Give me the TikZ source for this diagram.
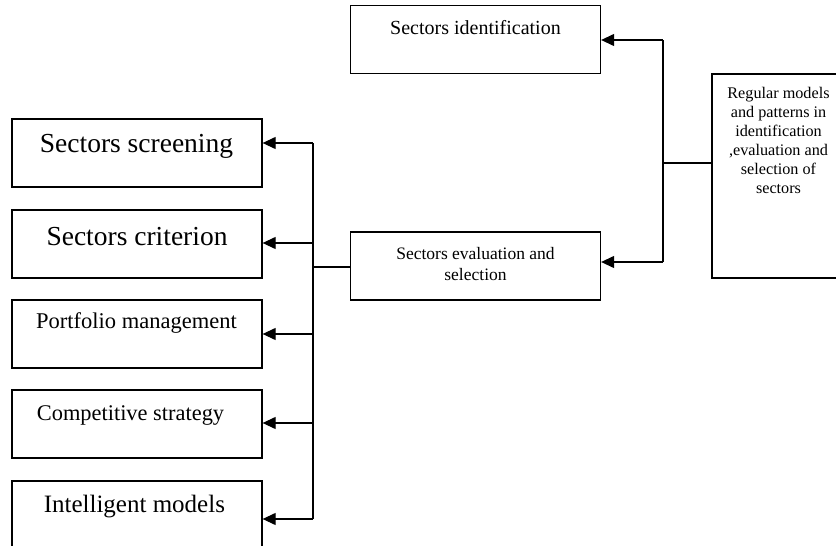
\documentclass[tikz,border=0pt]{standalone}
\usepackage{fontspec}
\setmainfont{Liberation Serif}
\usetikzlibrary{arrows.meta}

\begin{document}
\begin{tikzpicture}
		[
			x=1pt, y=-1pt,
			box/.style={rectangle, draw, line width=1.3pt, minimum width=250pt, minimum height=68pt, inner sep=0pt},
			txt/.style={align=center, inner sep=0pt},
			link/.style={line width=1.2pt},
			arr/.style={line width=1.2pt, -{Triangle[length=13pt, width=12pt]}},
		]

		\path[use as bounding box, clip] (0,0) rectangle (836,546);

		% Nodes
		\node[box] (ident) at (475.5,39.5) {};
		\node[txt, font=\fontsize{20}{24}\selectfont] (ident-t) at (475.5,28) {Sectors identification};

		\node[box] (eval) at (475.5,266) {};
		\node[txt, font=\fontsize{17.5}{21.5}\selectfont] (eval-t) at (475.5,264) {Sectors evaluation and\\selection};

		\node[box, minimum width=140pt, minimum height=204pt] (regular) at (782,176) {};
		\node[txt, font=\fontsize{16.2}{19}\selectfont] (regular-t) at (778.5,140.5)
			{Regular models\\and patterns in\\identification\\,evaluation and\\selection of\\sectors};

		\foreach \name/\y/\ty/\tx/\size/\text in
		{
			scr/153/146/136.5/27.5/Sectors screening,
			crit/244/237/137/27.5/Sectors criterion,
			port/334/323/136.5/22.5/Portfolio management,
			comp/424/415/130.5/22.4/Competitive strategy,
			intel/515/507/137.5/25/Intelligent models
		}
		{
			\node[box] (\name) at (137,\y) {};
			\node[txt, font=\fontsize{\size}{\size}\selectfont] (\name-t) at (\tx,\ty) {\text};
		}

		% Right bus
		\coordinate (rbus-top) at (663,40);
		\coordinate (rbus-mid) at (663,163);
		\coordinate (rbus-bot) at (663,262);
		\draw[link] (rbus-top) -- (rbus-bot);
		\draw[link] (rbus-mid) -- (rbus-mid -| regular.west);
		\draw[arr] (rbus-top) -- (rbus-top -| ident.east);
		\draw[arr] (rbus-bot) -- (rbus-bot -| eval.east);

		% Left bus
		\coordinate (lbus-mid) at (313,267);
		\draw[link] (lbus-mid) -- (lbus-mid -| eval.west);
		\foreach \name/\y in
		{
			scr/143,
			crit/243,
			port/334,
			comp/423,
			intel/519}
		{
			\coordinate (lbus-\name) at (313,\y);
			\draw[arr] (lbus-\name) -- (lbus-\name -| \name.east);
		}
		\draw[link] (lbus-scr) -- (lbus-intel);

\end{tikzpicture}
\end{document}
